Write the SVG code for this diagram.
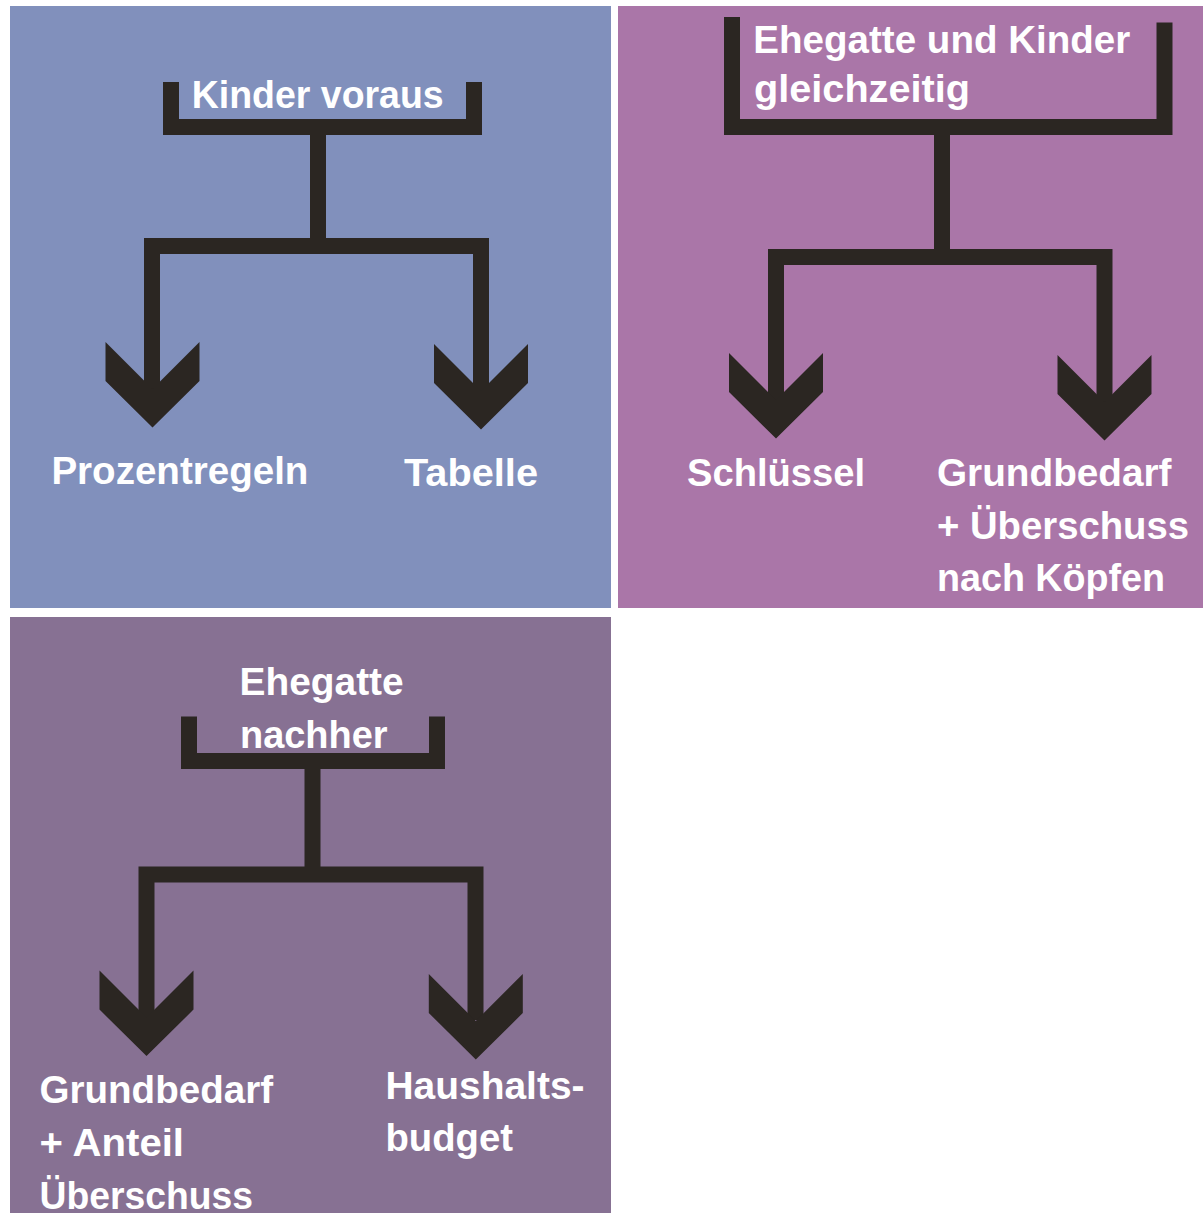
<svg xmlns="http://www.w3.org/2000/svg" xmlns:xlink="http://www.w3.org/1999/xlink" width="1203" height="1213" viewBox="0 0 1203 1213">
<style>
.lbl{font-family:"Liberation Sans",Arial,sans-serif;font-weight:bold;font-size:39px;fill:#ffffff}
.ln{fill:none;stroke:#2b2622;stroke-width:16;stroke-linejoin:miter;stroke-linecap:butt}
.hd{fill:#2b2622}
</style>
<defs>
<path id="chev" d="M-47,0 L0,47 L47,0 L47,39 L0,85.5 L-47,39 Z"/>
</defs>
<rect width="1203" height="1213" fill="#ffffff"/>
<rect x="10" y="6" width="601" height="602" fill="#8190bc"/>
<rect x="618" y="6" width="585" height="602" fill="#aa76a8"/>
<rect x="10" y="617" width="601" height="596" fill="#877193"/>

<g id="connectors">
<path class="ln" d="M318,127 V246 M152,395 V246 H481 V395"/>
<use xlink:href="#chev" class="hd" transform="translate(152.5,342)"/>
<use xlink:href="#chev" class="hd" transform="translate(481,344)"/>
<path class="ln" d="M942,127 V257 M776,405 V257 H1104.5 V405"/>
<use xlink:href="#chev" class="hd" transform="translate(776,353)"/>
<use xlink:href="#chev" class="hd" transform="translate(1104.5,355)"/>
<path class="ln" d="M312.5,761 V874.5 M146.5,1020 V874.5 H475.5 V1020"/>
<use xlink:href="#chev" class="hd" transform="translate(146.5,970.6)"/>
<use xlink:href="#chev" class="hd" transform="translate(475.8,974)"/>
</g>

<g id="node-kinder-voraus">
<path class="ln" d="M171,82 V127 H474 V82"/>
<text class="lbl" x="191.7" y="107.5" textLength="252" lengthAdjust="spacingAndGlyphs">Kinder voraus</text>
</g>
<g id="node-prozentregeln">
<text class="lbl" x="51.4" y="484" textLength="257" lengthAdjust="spacingAndGlyphs">Prozentregeln</text>
</g>
<g id="node-tabelle">
<text class="lbl" x="404" y="486" textLength="134" lengthAdjust="spacingAndGlyphs">Tabelle</text>
</g>

<g id="node-ehegatte-kinder">
<path class="ln" d="M732,17 V127 H1164.5 V22.5"/>
<text class="lbl" x="753.3" y="53.3" textLength="377" lengthAdjust="spacingAndGlyphs">Ehegatte und Kinder</text>
<text class="lbl" x="754" y="101.7" textLength="216" lengthAdjust="spacingAndGlyphs">gleichzeitig</text>
</g>
<g id="node-schluessel">
<text class="lbl" x="687" y="486" textLength="178" lengthAdjust="spacingAndGlyphs">Schlüssel</text>
</g>
<g id="node-grundbedarf-koepfe">
<text class="lbl" x="937" y="486" textLength="234.5" lengthAdjust="spacingAndGlyphs">Grundbedarf</text>
<text class="lbl" x="937" y="539" textLength="252" lengthAdjust="spacingAndGlyphs">+ Überschuss</text>
<text class="lbl" x="937" y="591" textLength="228" lengthAdjust="spacingAndGlyphs">nach Köpfen</text>
</g>

<g id="node-ehegatte-nachher">
<path class="ln" d="M189,716.5 V761 H437 V716.5"/>
<text class="lbl" x="239.6" y="695" textLength="164" lengthAdjust="spacingAndGlyphs">Ehegatte</text>
<text class="lbl" x="240" y="748" textLength="147.5" lengthAdjust="spacingAndGlyphs">nachher</text>
</g>
<g id="node-grundbedarf-anteil">
<text class="lbl" x="39.5" y="1103" textLength="233.5" lengthAdjust="spacingAndGlyphs">Grundbedarf</text>
<text class="lbl" x="39.5" y="1156" textLength="144.5" lengthAdjust="spacingAndGlyphs">+ Anteil</text>
<text class="lbl" x="39.5" y="1209" textLength="213.5" lengthAdjust="spacingAndGlyphs">Überschuss</text>
</g>
<g id="node-haushaltsbudget">
<text class="lbl" x="385.5" y="1099" textLength="199" lengthAdjust="spacingAndGlyphs">Haushalts-</text>
<text class="lbl" x="385.5" y="1151" textLength="127.5" lengthAdjust="spacingAndGlyphs">budget</text>
</g>
</svg>
